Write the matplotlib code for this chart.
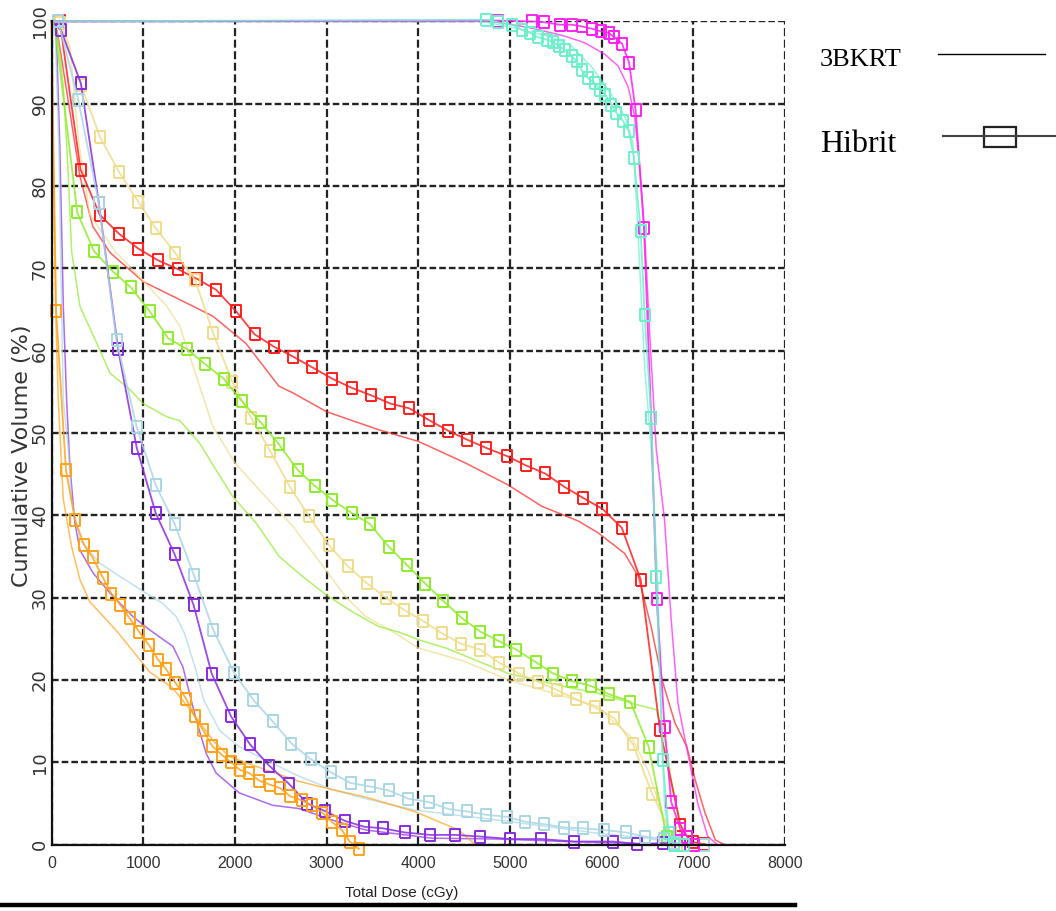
import matplotlib
matplotlib.use('Agg')
from matplotlib import pyplot as plt
from matplotlib.lines import Line2D
from matplotlib.patches import Rectangle

# DVH data (dose in cGy, volume in %)
# 3BKRT = plain lines, Hibrit = lines with open squares

red_3b_x = [0, 60, 180, 310, 450, 640, 1000, 1400, 1760, 2120, 2480, 2630, 3000, 3570, 4000, 4510, 4980, 5350, 5750, 5960, 6250, 6400, 6540, 6660, 6800, 6930, 7020, 7130, 7240, 7340]
red_3b_y = [100, 99, 90.5, 81.2, 75.1, 71.9, 68.4, 66.2, 64.2, 60.9, 55.7, 54.9, 52.6, 50.4, 49.0, 46.4, 43.7, 41.1, 39.3, 37.9, 35.4, 32.6, 26.5, 20.0, 14.8, 11.9, 7.9, 3.8, 0.6, 0]
red_hb_x = [0, 90, 317, 527, 737, 948, 1158, 1382, 1592, 1796, 2013, 2215, 2426, 2633, 2842, 3063, 3274, 3484, 3693, 3904, 4114, 4324, 4534, 4741, 4969, 5170, 5382, 5590, 5802, 6009, 6220, 6426, 6636, 6860, 6933, 7000, 7120]
red_hb_y = [100, 100, 82.0, 76.5, 74.2, 72.4, 71.0, 69.9, 68.7, 67.4, 64.8, 62.0, 60.5, 59.3, 58.0, 56.6, 55.5, 54.6, 53.6, 53.0, 51.6, 50.3, 49.2, 48.2, 47.2, 46.1, 45.1, 43.5, 42.1, 40.8, 38.5, 32.2, 14.0, 2.4, 1.0, 0.3, 0.1]

gold_3b_x = [0, 100, 200, 300, 420, 700, 1000, 1250, 1400, 1580, 1760, 2000, 2300, 2630, 2990, 3210, 3430, 3750, 4000, 4500, 4984, 5600, 5962, 6143, 6324, 6505, 6686, 6795]
gold_3b_y = [100, 99.8, 97, 85, 76.5, 72, 68.5, 65.5, 63, 56.9, 50.8, 46.4, 42.7, 38.7, 33.4, 30.1, 27.7, 25.7, 23.9, 22.3, 20.0, 18.0, 16.8, 14.8, 13.1, 9.1, 3.0, 0]
gold_hb_x = [0, 92, 322, 527, 737, 946, 1136, 1348, 1565, 1761, 1973, 2180, 2386, 2603, 2810, 3024, 3234, 3437, 3650, 3850, 4050, 4256, 4470, 4678, 4886, 5100, 5310, 5513, 5719, 5926, 6136, 6342, 6552, 6759, 6820]
gold_hb_y = [100, 99.8, 92.3, 86.0, 81.7, 78.1, 74.9, 71.9, 68.6, 62.2, 56.2, 51.8, 47.8, 43.4, 39.9, 36.4, 33.8, 31.8, 30.0, 28.5, 27.2, 25.7, 24.4, 23.7, 22.1, 20.8, 19.8, 18.8, 17.7, 16.7, 15.4, 12.2, 6.2, 1.4, 0]

green_3b_x = [0, 60, 130, 180, 220, 310, 527, 636, 853, 998, 1252, 1400, 1614, 1796, 1976, 2230, 2484, 2737, 2991, 3281, 3571, 3800, 4005, 4300, 4984, 5600, 5962, 6324, 6600, 6705, 6760, 6830, 6870]
green_3b_y = [100, 99, 92, 82, 72, 65.4, 60.1, 57.3, 55.3, 53.6, 52.0, 51.5, 48.8, 45.5, 42.3, 39.1, 35.0, 32.6, 30.4, 28.3, 26.5, 25.8, 24.9, 23.9, 20.8, 19.2, 18.4, 17.2, 16.4, 11.9, 7.9, 3.9, 0]
green_hb_x = [30, 281, 463, 672, 866, 1071, 1274, 1478, 1672, 1878, 2074, 2283, 2476, 2687, 2871, 3063, 3274, 3469, 3679, 3875, 4078, 4274, 4480, 4676, 4886, 5070, 5280, 5473, 5672, 5882, 6078, 6313, 6513, 6708, 6790]
green_hb_y = [100, 76.8, 72.1, 69.6, 67.7, 64.8, 61.5, 60.2, 58.4, 56.6, 53.9, 51.3, 48.7, 45.5, 43.6, 41.9, 40.3, 39.0, 36.2, 34.0, 31.7, 29.6, 27.5, 25.9, 24.7, 23.7, 22.2, 20.8, 19.9, 19.3, 18.3, 17.4, 11.9, 1.0, 0]

purple_3b_x = [0, 50, 90, 130, 165, 201, 255, 310, 454, 636, 889, 1071, 1324, 1433, 1505, 1578, 1687, 1796, 2049, 2411, 2701, 3063, 3426, 4150, 4875, 5600, 6300, 6850]
purple_3b_y = [100, 99.5, 85, 65, 54, 45.9, 39.1, 35.8, 33.0, 30.6, 27.7, 26.1, 24.1, 21.6, 18.4, 15.2, 11.1, 8.7, 6.3, 4.8, 4.4, 3.0, 1.8, 0.8, 0.7, 0.4, 0.2, 0]
purple_hb_x = [0, 100, 320, 516, 726, 930, 1136, 1342, 1550, 1747, 1958, 2165, 2375, 2590, 2791, 2984, 3201, 3408, 3614, 3853, 4133, 4404, 4676, 5002, 5339, 5701, 6125, 6389, 6668, 6860]
purple_hb_y = [100, 99, 92.5, 78, 60.2, 48.2, 40.3, 35.3, 29.1, 20.8, 15.6, 12.2, 9.6, 7.4, 5.0, 4.1, 2.9, 2.2, 2.0, 1.5, 1.2, 1.2, 1.0, 0.7, 0.7, 0.4, 0.4, 0.1, 0.2, 0]

lblue_3b_x = [0, 40, 80, 110, 128, 183, 219, 310, 527, 745, 998, 1215, 1361, 1450, 1570, 1660, 1832, 2049, 2411, 2665, 3063, 3426, 3969, 4875, 5962, 6505, 6867]
lblue_3b_y = [100, 99, 85, 65, 54.1, 48.0, 41.9, 37.0, 34.2, 32.6, 30.8, 29.3, 27.7, 25.7, 21.4, 17.6, 13.9, 11.9, 9.9, 8.5, 6.7, 5.6, 4.2, 3.0, 1.4, 0.8, 0]
lblue_hb_x = [0, 74, 291, 516, 709, 930, 1136, 1342, 1552, 1764, 1991, 2201, 2411, 2617, 2828, 3045, 3263, 3469, 3679, 3893, 4114, 4328, 4530, 4737, 4969, 5168, 5375, 5592, 5799, 6027, 6263, 6469, 6679, 6788, 7122]
lblue_hb_y = [100, 100, 90.5, 77.9, 61.3, 50.7, 43.7, 39.0, 32.8, 26.1, 20.9, 17.6, 15.0, 12.3, 10.4, 8.8, 7.5, 7.1, 6.6, 5.6, 5.2, 4.35, 4.05, 3.65, 3.4, 2.8, 2.5, 2.1, 2.0, 1.8, 1.5, 1.0, 0.7, 0.2, 0]

orange_3b_x = [0, 20, 50, 74, 128, 219, 310, 418, 527, 709, 926, 1071, 1324, 1541, 1759, 1940, 2339, 2701, 3063, 3426, 3969, 4440, 4622]
orange_3b_y = [100, 82, 63, 54, 42, 36.2, 32.2, 29.5, 28.2, 26.0, 23.0, 21.0, 19.0, 16.0, 12.7, 10.7, 9.1, 7.7, 6.7, 5.8, 4.0, 1.8, 0]
orange_hb_x = [0, 50, 158, 255, 357, 448, 563, 654, 752, 853, 954, 1060, 1161, 1252, 1350, 1470, 1560, 1650, 1752, 1861, 1958, 2057, 2158, 2266, 2383, 2491, 2603, 2730, 2840, 2954, 3057, 3166, 3252, 3353]
orange_hb_y = [100, 64.8, 45.5, 39.5, 36.4, 34.9, 32.4, 30.5, 29.1, 27.5, 25.9, 24.3, 22.5, 21.3, 19.7, 17.7, 15.6, 14.0, 12.0, 10.9, 10.0, 9.1, 8.7, 7.8, 7.3, 6.9, 5.9, 5.4, 4.8, 3.9, 2.8, 1.8, 0.4, -0.5]

magenta_3b_x = [0, 4800, 5236, 5600, 5817, 6035, 6179, 6288, 6360, 6415, 6469, 6524, 6596, 6686, 6759, 6832, 6904, 6976, 7049, 7158, 7266]
magenta_3b_y = [100, 100, 99.2, 98.2, 97.4, 96.0, 94.6, 92.1, 88.5, 82.4, 74.3, 62.1, 48.0, 39.5, 27.3, 17.2, 13.1, 9.1, 5.0, 1.0, 0]
magenta_hb_x = [0, 4875, 5236, 5375, 5546, 5672, 5781, 5897, 5991, 6078, 6136, 6223, 6299, 6371, 6462, 6541, 6600, 6686, 6759, 6860, 6933, 7005]
magenta_hb_y = [100, 100.1, 100, 99.9, 99.6, 99.6, 99.4, 99.1, 98.8, 98.6, 98.1, 97.3, 95.0, 89.2, 74.9, 51.8, 29.9, 14.3, 5.2, 1.9, 1.0, 0]

teal_3b_x = [0, 4700, 5056, 5418, 5672, 5889, 6071, 6252, 6342, 6379, 6415, 6469, 6541, 6614, 6650, 6686, 6741, 6760]
teal_3b_y = [100, 100, 99.2, 98.2, 97.0, 94.5, 91.7, 88.5, 85.2, 78.3, 70.2, 58.1, 48.0, 31.4, 15.2, 5.0, 0.2, 0]
teal_hb_x = [0, 4737, 4875, 5027, 5128, 5219, 5302, 5400, 5473, 5535, 5600, 5672, 5726, 5781, 5853, 5926, 5984, 6041, 6107, 6161, 6234, 6296, 6353, 6426, 6469, 6541, 6596, 6668, 6730, 6788, 6900]
teal_hb_y = [100, 100.2, 99.9, 99.6, 99.0, 98.6, 98.1, 97.8, 97.5, 97.0, 96.5, 95.8, 95.2, 94.1, 93.1, 92.5, 91.7, 91.1, 89.9, 88.9, 87.9, 86.7, 83.4, 74.5, 64.4, 51.8, 32.5, 10.3, 1.4, 0, 0]

x_ticks = [0, 1000, 2000, 3000, 4000, 5000, 6000, 7000, 8000]
y_ticks = [0, 10, 20, 30, 40, 50, 60, 70, 80, 90, 100]

curves = [
    ('#ff1f1f', red_3b_x, red_3b_y, red_hb_x, red_hb_y),
    ('#efdc8a', gold_3b_x, gold_3b_y, gold_hb_x, gold_hb_y),
    ('#8fec2c', green_3b_x, green_3b_y, green_hb_x, green_hb_y),
    ('#8a2be2', purple_3b_x, purple_3b_y, purple_hb_x, purple_hb_y),
    ('#a9d6e5', lblue_3b_x, lblue_3b_y, lblue_hb_x, lblue_hb_y),
    ('#ffa21a', orange_3b_x, orange_3b_y, orange_hb_x, orange_hb_y),
    ('#ff1ff5', magenta_3b_x, magenta_3b_y, magenta_hb_x, magenta_hb_y),
    ('#6cf0cc', teal_3b_x, teal_3b_y, teal_hb_x, teal_hb_y),
]

# the squares in the picture are a bit taller than wide
box = [(-0.82, -1), (0.82, -1), (0.82, 1), (-0.82, 1), (-0.82, -1)]

W, H = 1056, 911
fig = plt.figure(figsize=(W / 100, H / 100), dpi=100)
ax = fig.add_axes([51.5 / W, 1 - 844.8 / H, (785 - 51.5) / W, (844.8 - 21.4) / H])

# grid first, curves on top
ax.set_axisbelow(True)
ax.xaxis.grid(True, color='#222222', linestyle=(0, (3.6, 1.6)), linewidth=1.6)
ax.yaxis.grid(True, color='#222222', linestyle=(0, (2.8, 1.3)), linewidth=1.7)

for color, x3, y3, xh, yh in curves:
    ax.plot(x3, y3, color=color, lw=1.1, alpha=0.7, clip_on=False)
for color, x3, y3, xh, yh in curves:
    ax.plot(xh, yh, color=color, lw=1.3, alpha=0.85, clip_on=False)
    ax.plot(xh[1:], yh[1:], ls='none', marker=box, ms=8.5, mfc='none',
            mec=color, mew=1.4, clip_on=False)

ax.set_xlim(0, 8000)
ax.set_ylim(0, 100)
ax.set_xticks(x_ticks)
ax.set_yticks(y_ticks)
ax.set_xticklabels([str(t) for t in x_ticks], family='Liberation Sans', fontsize=11.5, color='#333333')
ax.set_yticklabels([str(t) for t in y_ticks], family='DejaVu Sans', fontsize=13,
                   color='#333333', rotation=90, va='center')
ax.tick_params(axis='both', length=0)
ax.tick_params(axis='x', pad=8)
ax.tick_params(axis='y', pad=2)

for side in ['top', 'right']:
    ax.spines[side].set_visible(False)
for side in ['left', 'bottom']:
    ax.spines[side].set_linewidth(1.6)
    ax.spines[side].set_color('#111111')

fig.text(402 / W, 1 - 893 / H, 'Total Dose (cGy)', family='Liberation Sans', fontsize=11,
         color='#222222', ha='center', va='center')
fig.text(22 / W, 1 - 456 / H, 'Cumulative Volume (%)', family='DejaVu Sans', fontsize=16,
         color='#333333', ha='center', va='center', rotation=90)

# legend drawn by hand on the right side
fig.text(820 / W, 1 - 66 / H, '3BKRT', family='Liberation Serif', fontsize=19,
         color='black', ha='left', va='baseline')
fig.text(820 / W, 1 - 152 / H, 'Hibrit', family='Liberation Serif', fontsize=23,
         color='black', ha='left', va='baseline')
fig.add_artist(Line2D([938 / W, 1045 / W], [1 - 53.5 / H, 1 - 53.5 / H], color='black', lw=1.0))
fig.add_artist(Line2D([943 / W, 1056 / W], [1 - 136 / H, 1 - 136 / H], color='#444444', lw=1.5))
fig.add_artist(Rectangle((984 / W, 1 - 147 / H), 32 / W, 20.5 / H, transform=fig.transFigure,
                         fill=False, ec='#222222', lw=1.6))

# thick rule under the chart
fig.add_artist(Line2D([0, 795 / W], [1 - 905 / H, 1 - 905 / H], color='black', lw=3.2))

fig.savefig('out.png', dpi=100)
